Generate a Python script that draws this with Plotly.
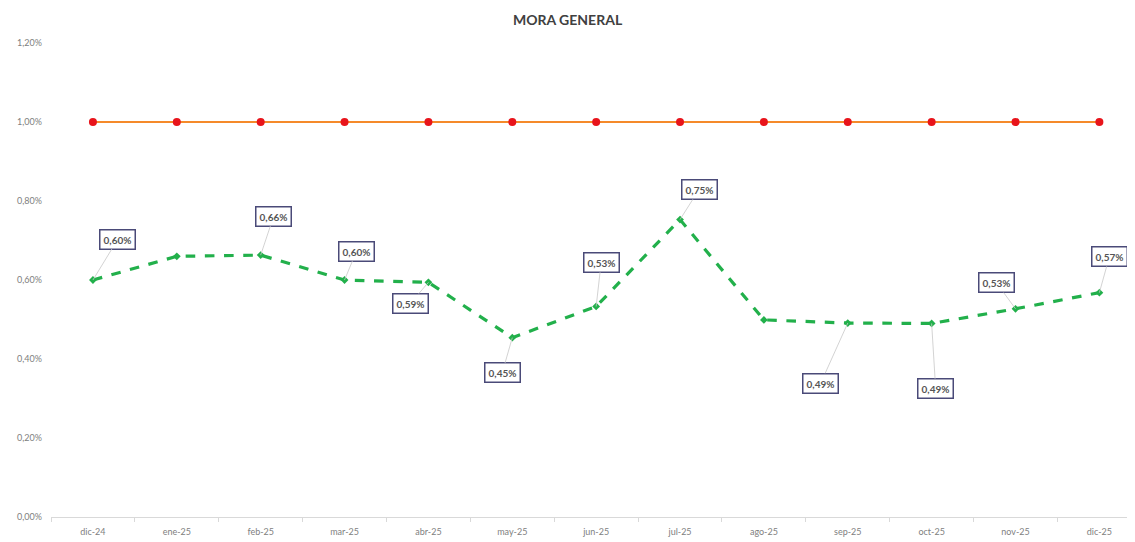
import plotly.graph_objects as go

months = ["dic-24", "ene-25", "feb-25", "mar-25", "abr-25", "may-25", "jun-25",
          "jul-25", "ago-25", "sep-25", "oct-25", "nov-25", "dic-25"]
mora = [0.600, 0.660, 0.663, 0.600, 0.594, 0.454, 0.533, 0.753, 0.499, 0.491, 0.490, 0.527, 0.568]
limite = [1.00] * 13
labeled = [True, False, True, True, True, True, True, True, False, True, True, True, True]
# label offsets (px) from point
offx = [25, 0, 13, 12, -18, -10, 5, 19, 0, -27, 4, -19, 10]
offy = [-41, 0, -39, -29, 21, 35, -44, -30, 0, 60, 65, -26, -36]

yticks = [0.0, 0.2, 0.4, 0.6, 0.8, 1.0, 1.2]
ytext = [f"{v:.2f}%".replace(".", ",") for v in yticks]

fig = go.Figure()
fig.add_trace(go.Scatter(
    x=months, y=limite, mode="lines+markers",
    line=dict(color="#F58A2A", width=2.2),
    marker=dict(color="#E8141B", size=8),
    hoverinfo="skip", showlegend=False))
fig.add_trace(go.Scatter(
    x=months, y=mora, mode="lines+markers",
    line=dict(color="#22B04B", width=3.2, dash="dash"),
    marker=dict(color="#22B04B", size=6, symbol="diamond"),
    showlegend=False))

for i, m in enumerate(months):
    if not labeled[i]:
        continue
    fig.add_annotation(
        x=m, y=mora[i], xref="x", yref="y",
        text=f"<b>{mora[i]:.2f}%</b>".replace(".", ","),
        showarrow=True, arrowhead=0, arrowwidth=0.8, arrowcolor="#C8C8C8",
        ax=offx[i], ay=offy[i],
        font=dict(family="Lato, Open Sans, sans-serif", size=10, color="#555555"),
        bgcolor="white", bordercolor="#4A4A78", borderwidth=1.5, borderpad=3)

fig.update_layout(
    width=1135, height=542,
    margin=dict(l=43, r=0, t=35, b=33),
    paper_bgcolor="white", plot_bgcolor="white",
    title=dict(text="<b>MORA GENERAL</b>", x=0.493, xanchor="center", y=0.978, yanchor="middle",
               font=dict(family="Lato, Open Sans, sans-serif", size=14, color="#404040")),
    font=dict(family="Lato, Open Sans, sans-serif", color="#808080"),
)
fig.update_xaxes(
    type="category", range=[-0.5, 12.52],
    showline=True, linecolor="#D9D9D9", linewidth=1,
    ticks="outside", ticklen=4, tickcolor="#D9D9D9", tickson="boundaries",
    showgrid=False, tickfont=dict(size=9, color="#808080"), ticklabelstandoff=6)
fig.update_yaxes(
    range=[0, 1.2], tickvals=yticks, ticktext=ytext,
    showgrid=False, zeroline=False, showline=False,
    tickfont=dict(size=9, color="#808080"), ticklabelstandoff=8)

fig.write_html("out.html")
